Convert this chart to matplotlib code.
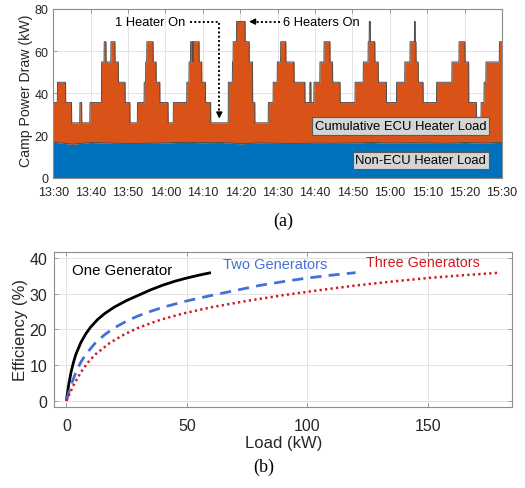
import numpy as np
import matplotlib.pyplot as plt

plt.rcParams["font.family"] = ["Liberation Sans", "DejaVu Sans"]

# ---- (a) camp power draw, minutes after 13:30 ----
time_labels = ["13:30", "13:40", "13:50", "14:00", "14:10", "14:20", "14:30",
               "14:40", "14:50", "15:00", "15:10", "15:20", "15:30"]

# times (min) at which the number of ECU heaters running changes, and the new count
switch_min = [0.0, 1.1, 3.3, 4.9, 7.1, 7.6, 9.8, 12.9, 13.6, 14.1, 15.4, 16.5,
              17.4, 19.2, 20.5, 22.5, 24.3, 24.7, 25.0, 26.7, 27.5, 28.5, 30.7,
              32.1, 35.7, 36.3, 36.7, 37.3, 37.4, 39.0, 39.7, 40.7, 42.1, 46.8,
              47.9, 48.1, 49.0, 51.3, 52.4, 53.3, 53.9, 57.5, 58.8, 59.9, 60.8,
              62.2, 64.4, 67.3, 68.6, 68.9, 69.7, 71.3, 72.4, 74.0, 74.7, 76.7,
              80.7, 82.9, 84.2, 84.5, 84.8, 86.0, 86.9, 89.1, 91.8, 94.0, 95.4,
              96.6, 96.8, 97.0, 97.6, 98.9, 102.5, 106.6, 108.5, 110.1, 111.1,
              113.2, 114.4, 115.2, 115.7, 119.3]
heaters_on = [2, 3, 2, 1, 2, 1, 2, 4, 5, 4, 5, 4,
              3, 2, 1, 2, 3, 4, 5, 4, 3, 2, 1,
              2, 3, 4, 5, 4, 5, 4, 3, 2, 1, 3,
              4, 5, 6, 5, 4, 2, 1, 2, 3, 4, 5,
              4, 3, 2, 3, 2, 3, 4, 5, 4, 3, 2,
              3, 4, 5, 6, 5, 4, 3, 2, 3, 4, 5,
              6, 5, 4, 3, 2, 3, 4, 5, 4, 2,
              1, 2, 3, 4, 5]
base_kw = 16.5       # camp load level the heaters stack on
heater_kw = 9.6      # draw of one ECU heater

# non-ECU load sampled every 5 min
non_ecu_min = [0, 5, 10, 15, 20, 25, 30, 35, 40, 45, 50, 55, 60,
               65, 70, 75, 80, 85, 90, 95, 100, 105, 110, 115, 120]
non_ecu_kw = [16.9, 16.0, 16.8, 16.5, 16.3, 16.4, 16.6, 16.9, 16.7, 16.8, 16.2, 16.6, 16.4,
              16.3, 16.5, 16.4, 16.6, 16.8, 16.5, 16.7, 16.6, 16.4, 16.8, 16.5, 16.9]

# ---- (b) generator efficiency curves ----
one_gen_load = [0, 1, 2, 3, 4, 6, 8, 10, 13, 16, 20, 25, 30, 35, 40, 45, 50, 55, 60]
one_gen_eff = [0, 4.6, 8.2, 10.9, 13.1, 16.3, 18.7, 20.6, 22.8, 24.5, 26.3, 28.1,
               29.6, 31.1, 32.4, 33.5, 34.4, 35.2, 35.9]
two_gen_load = [0, 2, 4, 6, 8, 12, 16, 20, 26, 32, 40, 50, 60, 70, 80, 90, 100, 110, 120]
two_gen_eff = [0, 4.5, 8.1, 10.8, 13.0, 16.2, 18.6, 20.5, 22.7, 24.4, 26.2, 28.0,
               29.5, 30.9, 32.3, 33.4, 34.4, 35.2, 35.9]
three_gen_load = [0, 3, 6, 9, 12, 18, 24, 30, 39, 48, 60, 75, 90, 105, 120, 135, 150, 165, 180]
three_gen_eff = [0, 4.4, 8.0, 10.8, 13.0, 16.2, 18.6, 20.5, 22.7, 24.4, 26.2, 28.0,
                 29.6, 31.0, 32.3, 33.4, 34.4, 35.2, 35.9]

BLUE = "#0072BD"
ORANGE = "#D95319"
EDGE = "#4d4d4d"
BOX = "#8c8c8c"
TXT = "#262626"


def style_axes(ax, size, xpad, ypad):
    ax.grid(True, color="#e3e3e3", linewidth=0.7)
    ax.set_axisbelow(True)
    ax.tick_params(direction="in", length=3, width=0.6, color=BOX,
                   top=True, right=True, labelsize=size, labelcolor=TXT)
    ax.tick_params(axis="x", pad=xpad)
    ax.tick_params(axis="y", pad=ypad)
    for spine in ax.spines.values():
        spine.set_color(BOX)
        spine.set_linewidth(0.8)


fig = plt.figure(figsize=(5.25, 4.89), dpi=100)

# ---------------- panel (a) ----------------
ax1 = fig.add_axes([0.1015, 0.634, 0.8547, 0.3456])

t = np.linspace(0, 120, 4801)
idx = np.searchsorted(switch_min, t, side="right") - 1
total_kw = base_kw + heater_kw * np.asarray(heaters_on)[idx]
non_ecu = np.interp(t, non_ecu_min, non_ecu_kw)

ax1.fill_between(t, 0, non_ecu, color=BLUE, linewidth=0)
ax1.fill_between(t, non_ecu, total_kw, color=ORANGE, linewidth=0)
ax1.plot(t, total_kw, color=EDGE, linewidth=0.7)
ax1.plot(t, non_ecu, color=EDGE, linewidth=0.7)

ax1.set_xlim(0, 120)
ax1.set_ylim(0, 80)
ax1.set_xticks(np.arange(0, 121, 10))
ax1.set_xticklabels(time_labels)
ax1.set_yticks([0, 20, 40, 60, 80])
style_axes(ax1, 9, 6, 3.5)
for spine in ax1.spines.values():
    spine.set_zorder(5)

fig.text(26 / 525, 1 - 91 / 489, "Camp Power Draw (kW)", rotation=90,
         ha="center", va="center", fontsize=10.2, color=TXT)

# heater annotations
ax1.text(35.2, 74, "1 Heater On", ha="right", va="center", fontsize=9.3, color="k")
ax1.plot([36.6, 44.4, 44.4], [74, 74, 31], color="k", linestyle=(0, (1, 1.2)), linewidth=1.4)
ax1.annotate("", xy=(44.4, 26.8), xytext=(44.4, 31.5),
             arrowprops=dict(arrowstyle="-|>", color="k", lw=1.0, mutation_scale=9))
ax1.text(61.3, 74, "6 Heaters On", ha="left", va="center", fontsize=9.3, color="k")
ax1.plot([60.6, 53.6], [74, 74], color="k", linestyle=(0, (1, 1.2)), linewidth=1.4)
ax1.annotate("", xy=(51.6, 74), xytext=(54.2, 74),
             arrowprops=dict(arrowstyle="-|>", color="k", lw=1.0, mutation_scale=9))

box = dict(boxstyle="square,pad=0.22", facecolor="#d4d4d4", edgecolor="#5a5a5a", linewidth=0.8)
ax1.text(115.8, 24.6, "Cumulative ECU Heater Load", ha="right", va="center",
         fontsize=9.4, color="k", bbox=box, zorder=6)
ax1.text(115.8, 8.3, "Non-ECU Heater Load", ha="right", va="center",
         fontsize=9.4, color="k", bbox=box, zorder=6)

fig.text(283 / 525, 1 - 221 / 489, "(a)", ha="center", va="center",
         fontsize=13, family="Liberation Serif")

# ---------------- panel (b) ----------------
ax2 = fig.add_axes([0.1034, 0.165, 0.8724, 0.317])

ax2.plot(one_gen_load, one_gen_eff, color="k", linewidth=2.0, solid_capstyle="butt")
ax2.plot(two_gen_load, two_gen_eff, color="#4470D8", linewidth=2.0,
         linestyle=(0, (4, 2.6)))
ax2.plot(three_gen_load, three_gen_eff, color="#D01A1E", linewidth=1.8,
         linestyle=(0, (0.9, 1.3)))

ax2.text(2.2, 36.7, "One Generator", ha="left", va="center", fontsize=10.8, color="k")
ax2.text(65, 38.3, "Two Generators", ha="left", va="center", fontsize=10.5, color="#4470D8")
ax2.text(124.4, 38.8, "Three Generators", ha="left", va="center", fontsize=10.3, color="#D01A1E")

ax2.set_xlim(-5, 185)
ax2.set_ylim(-1.8, 41.6)
ax2.set_xticks([0, 50, 100, 150])
ax2.set_yticks([0, 10, 20, 30, 40])
style_axes(ax2, 11.5, 8, 5)

ax2.set_xlabel("Load (kW)", fontsize=12, color=TXT)
ax2.xaxis.set_label_coords(0.5, -0.18)
fig.text(20 / 525, 1 - 330 / 489, "Efficiency (%)", rotation=90,
         ha="center", va="center", fontsize=12, color=TXT)

fig.text(264 / 525, 1 - 467 / 489, "(b)", ha="center", va="center",
         fontsize=13, family="Liberation Serif")

fig.savefig("out.png", dpi=100)
